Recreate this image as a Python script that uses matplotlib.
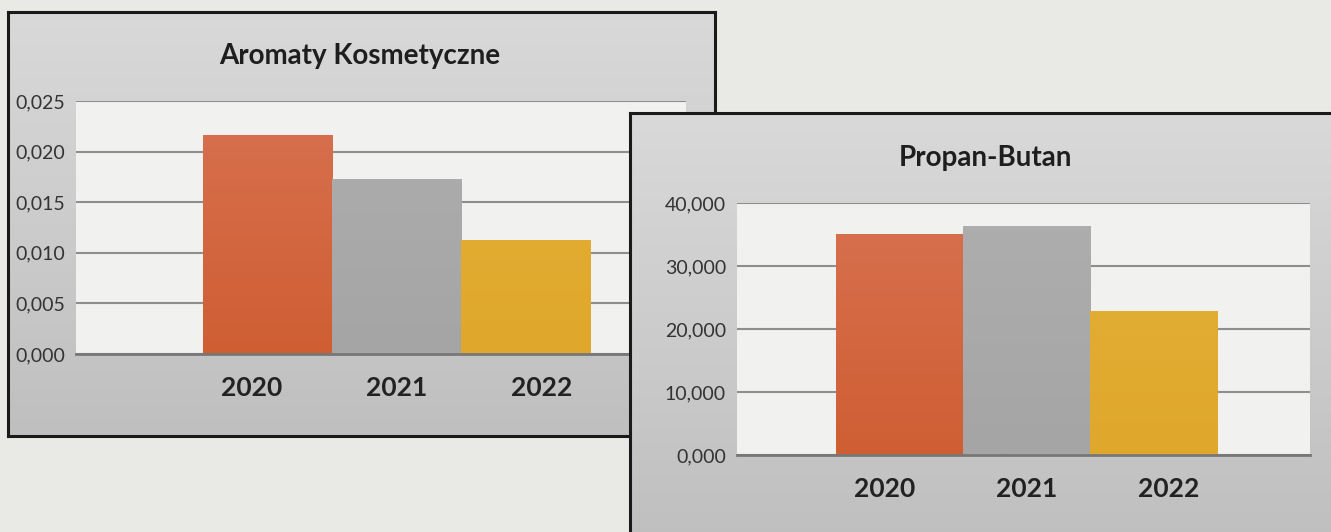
import numpy as np
import matplotlib
matplotlib.use("Agg")
import matplotlib.pyplot as plt
from matplotlib.colors import LinearSegmentedColormap

plt.rcParams['font.family'] = ['Lato', 'DejaVu Sans']

# dane
years = ['2020', '2021', '2022']
aromaty = [0.0216, 0.0173, 0.0113]
propan = [35100, 36300, 22800]
aromaty_ticks = [0.000, 0.005, 0.010, 0.015, 0.020, 0.025]
propan_ticks = [0, 10000, 20000, 30000, 40000]

bar_cols = [('#d87150', '#cf5e33'), ('#aeaeae', '#a5a5a5'), ('#e4b038', '#dfa82c')]

W, H = 1331, 532
fig = plt.figure(figsize=(W / 100, H / 100), dpi=100)
fig.patch.set_facecolor('#e9e9e6')


def fx(px):
    return px / W


def fy(py):
    return 1 - py / H


def panel(x0, y0, x1, y1):
    bg = fig.add_axes([fx(x0), fy(y1), fx(x1 - x0), fy(y0) - fy(y1)])
    grad = np.linspace(0, 1, 256).reshape(-1, 1)
    cm = LinearSegmentedColormap.from_list('p', ['#d9d9d9', '#bfbfbf'])
    bg.imshow(grad, aspect='auto', cmap=cm, extent=[0, 1, 0, 1], origin='upper')
    bg.set_xticks([]); bg.set_yticks([])
    for s in bg.spines.values():
        s.set_linewidth(2.2)
        s.set_color('#1a1a1a')
    return bg


def bars(ax, vals, top):
    x = np.arange(len(vals))
    bb = ax.bar(x, vals, width=1.0, color=[c[1] for c in bar_cols], zorder=3, linewidth=0)
    for b, (c0, c1) in zip(bb, bar_cols):
        cm = LinearSegmentedColormap.from_list('b', [c0, c1])
        im = ax.imshow(np.linspace(0, 1, 100).reshape(-1, 1), cmap=cm, aspect='auto',
                       extent=[b.get_x(), b.get_x() + b.get_width(), 0, top], origin='upper', zorder=3.5)
        im.set_clip_path(b)
    # etykiety lat lekko rozsunięte względem słupków, jak w oryginale
    ax.set_xticks(1 + (x - 1) * 1.12)
    ax.set_xticklabels(years, fontsize=19, fontweight='bold', color='#222222')
    ax.tick_params(axis='x', length=0, pad=16)
    ax.tick_params(axis='y', length=0, pad=8, labelsize=14, labelcolor='#333333')
    ax.set_facecolor('#f1f1f0')
    ax.grid(axis='y', color='#8e8e8e', linewidth=1.5, zorder=1)
    ax.set_axisbelow(True)
    for s in ['top', 'right', 'left']:
        ax.spines[s].set_visible(False)
    ax.spines['bottom'].set_color('#777777')
    ax.spines['bottom'].set_linewidth(2)
    ax.spines['bottom'].set_zorder(4)


# panel 1
panel(8, 12, 715, 436)
ax1 = fig.add_axes([fx(76), fy(354), fx(686 - 76), fy(101) - fy(354)])
bars(ax1, aromaty, max(aromaty_ticks))
ax1.set_xlim(-1.48, 3.24)
ax1.set_ylim(0, 0.025)
ax1.set_yticks(aromaty_ticks)
ax1.set_yticklabels([f'{v:.3f}'.replace('.', ',') for v in aromaty_ticks])
fig.text(fx(360), fy(56), 'Aromaty Kosmetyczne', ha='center', va='center',
         fontsize=20, fontweight='bold', color='#1e1e1e')

# panel 2
panel(630, 113, 1345, 545)
ax2 = fig.add_axes([fx(737), fy(455), fx(1310 - 737), fy(203) - fy(455)])
bars(ax2, propan, max(propan_ticks))
ax2.set_xlim(-1.28, 3.23)
ax2.set_ylim(0, 40000)
ax2.set_yticks(propan_ticks)
ax2.set_yticklabels([f'{v / 1000:.3f}'.replace('.', ',') for v in propan_ticks])
fig.text(fx(985), fy(158), 'Propan-Butan', ha='center', va='center',
         fontsize=20, fontweight='bold', color='#1e1e1e')

fig.savefig('out.png', dpi=100, facecolor=fig.get_facecolor())
